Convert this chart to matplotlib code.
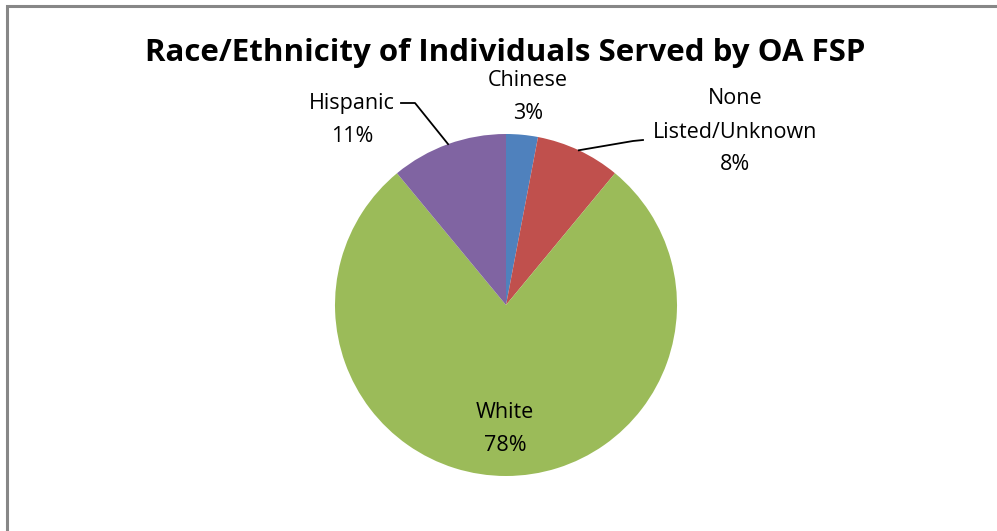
import numpy as np
import matplotlib.pyplot as plt

categories = ['Chinese', 'None\nListed/Unknown', 'White', 'Hispanic']
shares = [3, 8, 78, 11]
colors = ['#4F81BD', '#C0504D', '#9BBB59', '#8064A2']

W, H = 997, 531
fig = plt.figure(figsize=(W / 100, H / 100), dpi=100)
ax = fig.add_axes([0, 0, 1, 1])

font = ['Open Sans', 'DejaVu Sans']

# chart frame (only the top and left edges fall inside the canvas)
ax.plot([7, 7, W + 5], [-5, H - 6, H - 6], color='#878787', lw=2.2, solid_joinstyle='miter')

ax.text(505, H - 53, 'Race/Ethnicity of Individuals Served by OA FSP', ha='center', va='center',
        fontsize=22.5, fontweight='bold', family=font)

cx, cy, r = 506, H - 305, 171
wedges, _ = ax.pie(shares, colors=colors, startangle=90, counterclock=False,
                   center=(cx, cy), radius=r, frame=True)
ax.set_xlim(0, W)
ax.set_ylim(0, H)
ax.set_aspect('equal')
ax.axis('off')

# label positions and leader line elbows (pixel coords, y from top)
label_pos = {
    'Chinese': (528, 97),
    'None\nListed/Unknown': (735, 132),
    'White': (505, 429),
    'Hispanic': (352, 120),
}
elbows = {
    'None\nListed/Unknown': [(643, 140), (633, 141)],
    'Hispanic': [(401, 103), (415, 103)],
}

cum = np.cumsum([0] + shares)
for i, (cat, val) in enumerate(zip(categories, shares)):
    x, y = label_pos[cat]
    ax.text(x, H - y, f'{cat}\n{val}%', ha='center', va='center', fontsize=15.5,
            family=font, linespacing=1.75)
    if cat in elbows:
        mid = (cum[i] + val / 2) / 100 * 2 * np.pi
        px = cx + r * np.sin(mid)
        py = cy + r * np.cos(mid)
        pts = [(ex, H - ey) for ex, ey in elbows[cat]] + [(px, py)]
        ax.plot([p[0] for p in pts], [p[1] for p in pts], color='black', lw=1.3)

fig.savefig('out.png', dpi=100)
